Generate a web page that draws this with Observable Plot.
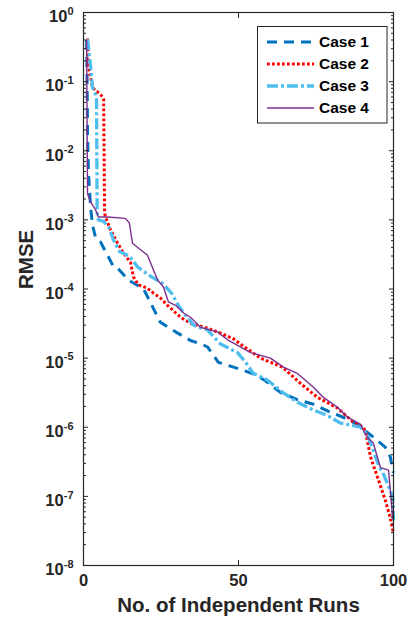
<!DOCTYPE html>
<html>
<head>
<meta charset="utf-8">
<script src="https://cdn.jsdelivr.net/npm/d3@7"></script>
<script src="https://cdn.jsdelivr.net/npm/@observablehq/plot@0.6"></script>
<style>
  body { margin: 0; background: #fff; }
  #wrap { position: relative; width: 411px; height: 629px; background: #fff;
          font-family: "Liberation Sans", Arial, sans-serif; }
  #legend { position: absolute; left: 257px; top: 26px; }
</style>
</head>
<body>
<div id="wrap"></div>
<script>
// ---- data ----
const caseNames = ["Case 1", "Case 2", "Case 3", "Case 4"];

const case1Runs = [1, 1.2, 1.3, 1.6, 2.3, 2.9, 3.9, 5.5, 6.8, 9.7, 11, 14.5, 19.4, 22.3, 24.8, 29.7, 34.5, 38.7, 40, 43.5, 48.4, 54.5, 58.7, 63.5, 69, 74.2, 79.7, 86.1, 89.4, 93.5, 97.4, 99, 99.7, 100];
const case1Rmse = [0.4, 0.065, 0.018, 4.8e-3, 1.5e-3, 8.5e-4, 5.5e-4, 4.8e-4, 3.7e-4, 2.1e-4, 2e-4, 1.35e-4, 1e-4, 5.5e-5, 3.3e-5, 2.4e-5, 1.8e-5, 1.55e-5, 1.45e-5, 8.7e-6, 7.4e-6, 6.0e-6, 4.7e-6, 3.2e-6, 2.5e-6, 2.15e-6, 1.65e-6, 1.26e-6, 1.0e-6, 7.2e-7, 5.1e-7, 3.7e-7, 2.4e-7, 2.2e-7];

const case2Runs = [1.3, 1.6, 2.9, 5.5, 6.1, 6.5, 6.8, 7.1, 8.7, 11, 12.9, 15.2, 16.1, 17.7, 20.6, 22.6, 24.8, 27.1, 31.3, 34.5, 40, 44.2, 48.4, 50.6, 57.1, 64.2, 70, 75.5, 81.9, 87.1, 90.3, 91, 92.6, 95.2, 97.4, 99, 100];
const case2Rmse = [0.42, 0.165, 0.082, 0.065, 0.06, 0.055, 1.26e-3, 1.1e-3, 7.2e-4, 4.6e-4, 3.3e-4, 2.4e-4, 1.5e-4, 1.15e-4, 1.03e-4, 8.7e-5, 7.4e-5, 5.8e-5, 3.9e-5, 3.2e-5, 2.7e-5, 2.3e-5, 1.9e-5, 1.6e-5, 1.0e-5, 7.4e-6, 4.3e-6, 2.7e-6, 1.9e-6, 1.18e-6, 1.0e-6, 8.5e-7, 3.7e-7, 1.7e-7, 8.7e-8, 4.8e-8, 2.9e-8];

const case3Runs = [1.3, 2.3, 2.9, 3.9, 4.2, 4.4, 4.8, 6.5, 8.1, 9.7, 11.6, 14.8, 17.4, 21, 25.5, 28.4, 30.6, 32.3, 35.5, 40, 44.2, 49.7, 52.3, 54.8, 59.4, 64.2, 69, 74.2, 78.7, 82.9, 89.4, 91.6, 93.5, 95.2, 97, 98.4, 99.7, 100];
const case3Rmse = [0.41, 0.165, 0.082, 0.065, 0.055, 1.26e-3, 1.0e-3, 9.5e-4, 7.9e-4, 5.1e-4, 3.5e-4, 3.0e-4, 2.1e-4, 1.6e-4, 1.2e-4, 8.7e-5, 5.8e-5, 4.5e-5, 3.0e-5, 2.55e-5, 1.6e-5, 1.2e-5, 8.7e-6, 6.0e-6, 4.8e-6, 3.2e-6, 2.3e-6, 1.77e-6, 1.48e-6, 1.15e-6, 1.0e-6, 7.7e-7, 4.6e-7, 2.8e-7, 2.0e-7, 1.4e-7, 1.0e-7, 4.5e-8];

const case4Runs = [1, 1.3, 2.3, 3.9, 4.8, 7.7, 13.5, 14.8, 15.8, 18.4, 20.6, 23.9, 25.8, 27.4, 29.7, 32.3, 34.5, 37.7, 43.2, 46.8, 48.4, 53.9, 60.3, 64.5, 69, 74.2, 77.4, 81.9, 85.2, 89.4, 90.3, 91.9, 93.5, 95.8, 98.4, 99.7, 100];
const case4Rmse = [0.4, 2.4e-3, 1.8e-3, 1.4e-3, 1.1e-3, 1.1e-3, 1.05e-3, 9e-4, 4.6e-4, 3.7e-4, 3.1e-4, 1.35e-4, 1.07e-4, 6.5e-5, 5.8e-5, 4.5e-5, 3.9e-5, 2.8e-5, 2.4e-5, 1.8e-5, 1.65e-5, 1.2e-5, 1e-5, 7.4e-6, 6e-6, 3.8e-6, 2.7e-6, 1.95e-6, 1.4e-6, 1.1e-6, 9e-7, 6.9e-7, 5.9e-7, 2.6e-7, 2.4e-7, 5e-8, 4.5e-8];

const yTickExponents = [-8, -7, -6, -5, -4, -3, -2, -1, 0];
const xTicks = [0, 50, 100];
const xLabel = "No. of Independent Runs";
const yLabel = "RMSE";

// ---- build table ----
const seriesRuns = [case1Runs, case2Runs, case3Runs, case4Runs];
const seriesRmse = [case1Rmse, case2Rmse, case3Rmse, case4Rmse];
const rows = caseNames.flatMap((name, k) =>
  seriesRuns[k].map((r, i) => ({caseName: name, run: r, rmse: seriesRmse[k][i]})));

const styles = {
  "Case 1": {stroke: "#0072BD", strokeWidth: 3, strokeDasharray: "10,7", strokeLinecap: "butt"},
  "Case 2": {stroke: "#FF0000", strokeWidth: 3, strokeDasharray: "2.8,2.2", strokeLinecap: "butt"},
  "Case 3": {stroke: "#4DBEEE", strokeWidth: 3.3, strokeDasharray: "11,3,3,3", strokeLinecap: "butt"},
  "Case 4": {stroke: "#7E2F8E", strokeWidth: 1.4, strokeLinecap: "butt"}
};

const majorTicks = yTickExponents.map(e => Math.pow(10, e));
const minorTicks = yTickExponents.slice(0, -1).flatMap(e => d3.range(2, 10).map(m => m * Math.pow(10, e)));

const ink = "#262626";
const font = "\"Liberation Sans\", Arial, sans-serif";

const chart = Plot.plot({
  width: 411,
  height: 629,
  marginLeft: 83,
  marginRight: 18,
  marginTop: 12,
  marginBottom: 64,
  x: {domain: [0, 100]},
  y: {type: "log", domain: [1e-8, 1]},
  style: {fontFamily: font, fontWeight: "bold", color: ink, background: "#fff", overflow: "visible"},
  marks: [
    ...caseNames.map(n => Plot.line(rows.filter(d => d.caseName === n),
      {x: "run", y: "rmse", strokeLinejoin: "round", ...styles[n]})),
    Plot.frame({stroke: ink, strokeWidth: 1.2}),
    // inward ticks, left and right
    Plot.axisY({anchor: "left", ticks: majorTicks, tickSize: 5, dx: 5, fill: "none", stroke: ink}),
    Plot.axisY({anchor: "left", ticks: minorTicks, tickSize: 3, dx: 3, fill: "none", stroke: ink}),
    Plot.axisY({anchor: "right", ticks: majorTicks, tickSize: 5, dx: -5, fill: "none", stroke: ink}),
    Plot.axisY({anchor: "right", ticks: minorTicks, tickSize: 3, dx: -3, fill: "none", stroke: ink}),
    // y tick labels
    Plot.axisY({anchor: "left", ticks: majorTicks, tickSize: 0, tickPadding: 10, dy: 4.5,
      label: null, fontSize: 16.5, fill: ink,
      tickFormat: d => "10^" + Math.round(Math.log10(d))}),
    // x ticks inward, bottom and top
    Plot.axisX({anchor: "bottom", ticks: xTicks, tickSize: 5, dy: -5, fill: "none", stroke: ink}),
    Plot.axisX({anchor: "top", ticks: xTicks, tickSize: 5, dy: 5, fill: "none", stroke: ink}),
    Plot.axisX({anchor: "bottom", ticks: xTicks, tickSize: 0, tickPadding: 9, label: null,
      fontSize: 16.5, fill: ink, tickFormat: d => String(d)}),
    // axis titles
    Plot.text([xLabel], {frameAnchor: "bottom", dy: 46.4, text: d => d, fontSize: 20.5,
      fontWeight: "bold", fill: ink}),
    Plot.text([yLabel], {frameAnchor: "left", dx: -57, rotate: -90, text: d => d, fontSize: 20.5,
      fontWeight: "bold", fill: ink})
  ]
});

// superscript exponents on the y tick labels
d3.select(chart).selectAll('g[aria-label="y-axis tick label"] text').each(function () {
  const t = this.textContent;
  if (!t.includes("^")) return;
  const [base, exp] = t.split("^");
  const sel = d3.select(this);
  sel.text(null);
  sel.append("tspan").text(base);
  sel.append("tspan").attr("font-size", 11).attr("dy", -7.5).text(exp);
});

const wrap = document.getElementById("wrap");
wrap.appendChild(chart);

// legend box inside the axes (top right)
const lg = d3.select(wrap).append("svg").attr("id", "legend")
  .attr("width", 131).attr("height", 98)
  .style("font-family", font).style("font-weight", "bold");
lg.append("rect").attr("x", 0.5).attr("y", 0.5).attr("width", 129.5).attr("height", 96.5)
  .attr("fill", "#fff").attr("stroke", ink).attr("stroke-width", 1);
const legendRowY = [16, 38, 60, 82];
caseNames.forEach((n, i) => {
  const s = styles[n];
  lg.append("line").attr("x1", 10).attr("x2", 57).attr("y1", legendRowY[i]).attr("y2", legendRowY[i])
    .attr("stroke", s.stroke).attr("stroke-width", s.strokeWidth)
    .attr("stroke-dasharray", s.strokeDasharray || null).attr("stroke-linecap", "butt");
  lg.append("text").attr("x", 62).attr("y", legendRowY[i]).attr("dy", "0.35em")
    .attr("font-size", 15.5).attr("fill", "#000").text(n);
});
</script>
</body>
</html>
